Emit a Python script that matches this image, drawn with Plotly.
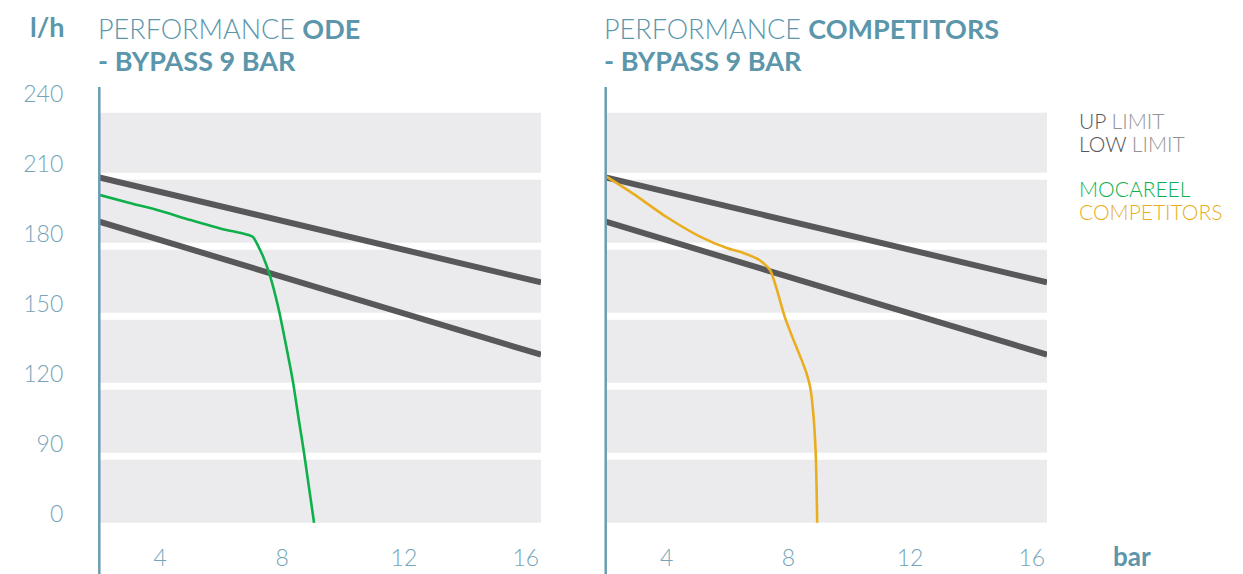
import plotly.graph_objects as go

# ---------------- data ----------------
x_ticks = [4, 8, 12, 16]
y_tick_values = [0, 90, 120, 150, 180, 210, 240]
y_tick_labels = ["0", "90", "120", "150", "180", "210", "240"]

limit_x = [2, 16.5]
up_limit = [208, 163]
low_limit = [189, 132]

mocareel_x = [2.0, 3.0, 3.9, 5.0, 6.0, 6.6, 6.9, 7.05, 7.2, 7.38, 7.6, 7.88, 8.1, 8.35, 8.55, 8.72, 9.05]
mocareel_y = [200.5, 197, 194, 189.7, 186, 184.3, 183.3, 182.4, 179, 174, 166, 152, 138, 121, 104, 90, 0]

comp_x = [2.0, 2.9, 4.0, 5.1, 6.0, 6.5, 7.05, 7.4, 7.6, 7.88, 8.15, 8.43, 8.6, 8.72, 8.82, 8.9, 8.95]
comp_y = [208.5, 201, 191, 182.6, 177.6, 175.7, 172.6, 168.3, 161, 148.3, 139, 130, 124, 118, 107, 90, 0]


# The chart's y axis is broken: 0..90 occupies the same height as one 30-step.
def disp(v):
    return v if v >= 90 else 60 + v / 3.0


def dlist(vals):
    return [disp(v) for v in vals]


# ---------------- styling ----------------
BLUE = "#5b96ab"
TICK = "#74a4b7"
BAND = "#ebebed"
DARK = "#58585a"
LIGHTG = "#939395"
GREEN = "#0fb04c"
YELLOW = "#e8ae1f"
FONT = "Lato"

OFF = 8  # page body margin
W, H = 1243 - OFF, 574 - OFF
PLOT_TOP, PLOT_BOT = 87 - OFF, 523 - OFF
MT, MB = PLOT_TOP, H - PLOT_BOT
PH = PLOT_BOT - PLOT_TOP


def px(p):
    return (p - OFF) / W


def py(p):
    return (PLOT_BOT - (p - OFF)) / PH


fig = go.Figure()

for xa, ya in (("x", "y"), ("x2", "y2")):
    fig.add_trace(go.Scatter(x=limit_x, y=dlist(up_limit), mode="lines",
                             line=dict(color=DARK, width=6), xaxis=xa, yaxis=ya,
                             showlegend=False, hoverinfo="skip"))
    fig.add_trace(go.Scatter(x=limit_x, y=dlist(low_limit), mode="lines",
                             line=dict(color=DARK, width=6), xaxis=xa, yaxis=ya,
                             showlegend=False, hoverinfo="skip"))

fig.add_trace(go.Scatter(x=mocareel_x, y=dlist(mocareel_y), mode="lines",
                         line=dict(color=GREEN, width=2.6, shape="spline", smoothing=0.6),
                         xaxis="x", yaxis="y", showlegend=False, name="MOCAREEL"))
fig.add_trace(go.Scatter(x=comp_x, y=dlist(comp_y), mode="lines",
                         line=dict(color=YELLOW, width=2.6, shape="spline", smoothing=0.6),
                         xaxis="x2", yaxis="y2", showlegend=False, name="COMPETITORS"))

shapes = []
tick_disp = dlist(y_tick_values)
for xr, yr in (("x", "y"), ("x2", "y2")):
    for i, t in enumerate(tick_disp[:-1]):
        top = t + 27 if i < len(tick_disp) - 2 else t + 25.7
        shapes.append(dict(type="rect", xref=xr, yref=yr, x0=limit_x[0], x1=limit_x[1],
                           y0=t, y1=top, fillcolor=BAND, line=dict(width=0), layer="below"))
    shapes.append(dict(type="line", xref=xr + " domain", yref=yr + " domain",
                       x0=0, x1=0, y0=-0.13, y1=1.0, line=dict(color="#6b9db1", width=2.5)))

xcommon = dict(range=[2, 16.5], tickvals=x_ticks, showgrid=False, zeroline=False,
               showline=False, ticks="", tickfont=dict(family=FONT, size=23, color=TICK, weight=300),
               ticklabelstandoff=19, fixedrange=True)
ycommon = dict(range=[59.87, 246.73], tickvals=tick_disp, ticktext=y_tick_labels,
               showgrid=False, zeroline=False, showline=False, ticks="", fixedrange=True)

TS = 27
LS = 21
annotations = [
    dict(text="l/h", x=px(47), y=py(27), font=dict(family=FONT, size=TS, color=BLUE, weight=700)),
    dict(text="PERFORMANCE <b>ODE</b>", x=px(97), y=py(28), xanchor="left",
         font=dict(family=FONT, size=TS, color=BLUE, weight=300)),
    dict(text="<b>- BYPASS 9 BAR</b>", x=px(97), y=py(60), xanchor="left",
         font=dict(family=FONT, size=TS, color=BLUE, weight=300)),
    dict(text="PERFORMANCE <b>COMPETITORS</b>", x=px(603), y=py(28), xanchor="left",
         font=dict(family=FONT, size=TS, color=BLUE, weight=300)),
    dict(text="<b>- BYPASS 9 BAR</b>", x=px(603), y=py(60), xanchor="left",
         font=dict(family=FONT, size=TS, color=BLUE, weight=300)),
    dict(text="UP <span style='color:%s'>LIMIT</span>" % LIGHTG, x=px(1078), y=py(120), xanchor="left",
         font=dict(family=FONT, size=LS, color=DARK, weight=300)),
    dict(text="LOW <span style='color:%s'>LIMIT</span>" % LIGHTG, x=px(1078), y=py(143), xanchor="left",
         font=dict(family=FONT, size=LS, color=DARK, weight=300)),
    dict(text="MOCAREEL", x=px(1078), y=py(188), xanchor="left",
         font=dict(family=FONT, size=LS, color=GREEN, weight=300)),
    dict(text="COMPETITORS", x=px(1078), y=py(211), xanchor="left",
         font=dict(family=FONT, size=LS, color=YELLOW, weight=300)),
    dict(text="bar", x=px(1132), y=py(556),
         font=dict(family=FONT, size=26, color=BLUE, weight=700)),
]
for a in annotations:
    a.update(xref="paper", yref="paper", showarrow=False, yanchor="middle", borderpad=0)
    a.setdefault("xanchor", "center")

fig.update_layout(
    width=W, height=H, autosize=False,
    margin=dict(l=0, r=0, t=MT, b=MB),
    paper_bgcolor="white", plot_bgcolor="white",
    xaxis=dict(domain=[px(99.3), px(541)], anchor="y", **xcommon),
    xaxis2=dict(domain=[px(605.7), px(1047)], anchor="y2", **xcommon),
    yaxis=dict(domain=[0, 1], anchor="x", ticklabelshift=-9, ticklabelstandoff=35,
               tickfont=dict(family=FONT, size=23, color=TICK, weight=300), **ycommon),
    yaxis2=dict(domain=[0, 1], anchor="x2", showticklabels=False, matches="y", **ycommon),
    shapes=shapes,
    annotations=annotations,
    showlegend=False,
)

fig.write_html("out.html")
